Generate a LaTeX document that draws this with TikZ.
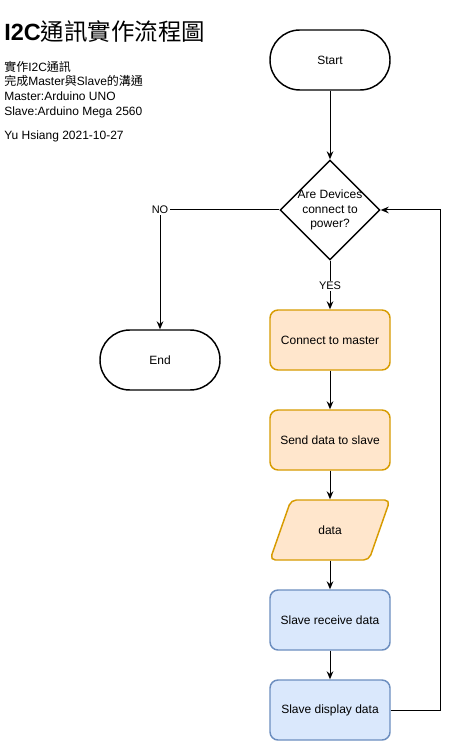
\documentclass[tikz,border=0pt]{standalone}
\usepackage{fontspec}
\setmainfont{Liberation Sans}
\newfontfamily\cjk{Noto Sans CJK TC}
\usetikzlibrary{shapes.geometric,arrows.meta}
\definecolor{orfill}{HTML}{FFE6CC}
\definecolor{orline}{HTML}{D79B00}
\definecolor{blfill}{HTML}{DAE8FC}
\definecolor{blline}{HTML}{6C8EBF}
\tikzset{
  base/.style={minimum width=90pt,minimum height=45pt,inner sep=0pt,font=\fontsize{9}{11}\selectfont,line width=1.1pt},
  term/.style={base,draw=black,rounded corners=22.4pt},
  orbox/.style={base,draw=orline,fill=orfill,rounded corners=6pt},
  blbox/.style={base,draw=blline,fill=blfill,rounded corners=6pt},
  conn/.style={line width=0.75pt,-{Stealth[length=6pt,width=5pt,inset=2pt]}},
  lbl/.style={font=\fontsize{8.25}{10}\selectfont,fill=white,inner sep=1pt},
  txt/.style={font=\fontsize{9}{10.9}\selectfont,align=left,inner sep=0pt}
}
\begin{document}
\begin{tikzpicture}[x=0.75pt,y=-0.75pt]
\useasboundingbox (0,0) rectangle (459,741);
% title and notes
\node[anchor=west,inner sep=0pt] (title) at (4,32) {\fontsize{17.6}{21}\selectfont{\bfseries I2C}{\cjk\mdseries 通訊實作流程圖}};
\node[txt,anchor=north west] (notes) at (4,61) {{\cjk 實作}I2C{\cjk 通訊}\\{\cjk 完成}Master{\cjk 與}Slave{\cjk 的溝通}\\Master:Arduino UNO\\Slave:Arduino Mega 2560};
\node[txt,anchor=west] (author) at (4,136) {Yu Hsiang 2021-10-27};
% nodes
\node[term] (start) at (330,60) {Start};
\node[diamond,draw,line width=1.1pt,minimum width=75pt,minimum height=75pt,inner sep=0pt] (dec) at (330,210) {};
\node[txt,align=center] (dectext) at (330,210) {Are Devices\\connect to\\power?};
\node[term] (end) at (160,360) {End};
\node[orbox] (conn) at (330,340) {Connect to master};
\node[orbox] (send) at (330,440) {Send data to slave};
\draw[draw=orline,fill=orfill,line width=1.1pt,rounded corners=4pt] (291,500) -- (390,500) -- (369,560) -- (270,560) -- cycle;
\node[base,draw=none] (data) at (330,530) {data};
\node[blbox] (recv) at (330,620) {Slave receive data};
\node[blbox] (disp) at (330,710) {Slave display data};
\coordinate (loopA) at (440,710);
\coordinate (loopB) at (440,210);
\coordinate (noturn) at (160,210);
% connectors
\draw[conn] (start) -- (dec);
\draw[conn] (dec.south) -- node[lbl,pos=0.52] (yes) {YES} (conn.north);
\draw[conn] (dec.west) -- (noturn) -- (end.north);
\node[lbl] (no) at (noturn) {NO};
\draw[conn] (conn) -- (send);
\draw[conn] (send) -- (data);
\draw[conn] (data) -- (recv);
\draw[conn] (recv) -- (disp);
\draw[conn] (disp.east) -- (loopA) -- (loopB) -- (dec.east);
\end{tikzpicture}
\end{document}
